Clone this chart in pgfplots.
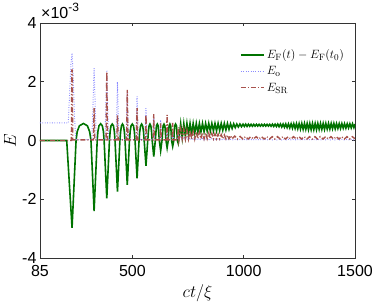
\documentclass[border=0pt]{standalone}
\usepackage{fontspec}
\newfontfamily\hv{Liberation Sans}
\usepackage{pgfplots}
\pgfplotsset{compat=1.18}
\definecolor{cg}{rgb}{0,0.45,0}
\definecolor{cb}{rgb}{0.55,0.55,1}
\definecolor{cr}{rgb}{0.66,0.32,0.30}
\begin{document}
\begin{tikzpicture}
\begin{axis}[name=ax, scale only axis, width=315pt, height=235pt,
 xmin=85, xmax=1500, ymin=-4, ymax=4,
 xtick={85,500,1000,1500}, xticklabels={85,500,1000,1500},
 ytick={-4,-2,0,2,4}, yticklabels={-4,-2,0,2,4},
 tick align=inside, tick pos=both, major tick length=3.5pt,
 every tick/.style={color=black!80, line width=0.5pt},
 axis line style={color=black!80, line width=0.6pt},
 tick label style={font=\fontsize{16}{16}\selectfont\hv},
 xticklabel style={yshift=-4pt},
 xlabel={$ct/\xi$}, ylabel={$E$},
 label style={font=\fontsize{18}{18}\selectfont},
 xlabel style={at={(axis description cs:0.5,-0.149)}, anchor=center},
 ylabel style={at={(axis description cs:-0.095,0.5)}, anchor=center},
 legend style={draw=none, fill=none, at={(axis description cs:0.975,0.90)}, anchor=north east, font=\fontsize{13}{15}\selectfont, row sep=2.5pt, inner sep=1pt},
 legend cell align=left,
 legend image code/.code={\draw[#1] (0pt,0pt) -- (23pt,0pt);},
]
\addplot[color=cg, line width=1.6pt] coordinates {
(85,0) (205,0) (229,-2.97) (247,0) (252,0.3) (262,0.5) (280,0.58) (298,0.5) (308,0.3) (314,0)
(328,-2.40) (342,0) (345,0.3) (350,0.5) (357.5,0.57) (365,0.5) (370,0.3) (373,0)
(385,-1.97) (397,0) (400,0.3) (404,0.5) (409.5,0.56) (415,0.5) (419,0.3) (422,0)
(433,-1.74) (444,0) (447,0.3) (451,0.5) (455.5,0.56) (460,0.5) (464,0.3) (467,0)
(477,-1.51) (487,0) (490,0.3) (494,0.5) (499.5,0.56) (505,0.5) (509,0.3) (512,0)
(521,-1.29) (530,0) (533,0.3) (537,0.5) (541.5,0.56) (546,0.5) (550,0.3) (553,0)
(561,-0.86) (569,0) (572,0.3) (575,0.5) (579,0.56) (583,0.5) (586,0.3) (589,0)
(596,-0.55) (603,0) (606,0.3) (608,0.5) (612,0.56) (616,0.5) (618,0.3) (621,0)
(627,-0.35) (633,0) (636,0.3) (638,0.5) (642,0.56) (646,0.5) (648,0.3) (651,0)
(656,-0.25) (661,0) (663,0.3) (665,0.5) (668.5,0.56) (672,0.5) (674,0.3) (676,0)
(681,-0.20) (686,0) (688,0.3) (690,0.5) (694,0.56) (698,0.5) (700,0.3) (702,0)
(706,-0.10) (710,0.1)
(717,0.57) (724,0.10) (731,0.57) (738,0.15) (745,0.58) (752,0.20) (759,0.58) (766,0.22)
(773,0.58) (780,0.25) (787,0.58) (794,0.27) (801,0.58) (808,0.30) (815,0.58) (822,0.30)
(829,0.58) (836,0.32) (843,0.58) (850,0.32) (857,0.58) (864,0.33) (871,0.58) (878,0.33)
(885,0.58) (892,0.34) (899,0.58) (906,0.35) (913,0.58) (920,0.36) (927,0.58) (934,0.38)
(941,0.57) (948,0.41) (955,0.57) (962,0.44) (969,0.56) (976,0.46) (983,0.56) (990,0.47)
(997,0.555) (1003,0.48) (1009,0.555) (1015,0.48) (1021,0.555) (1027,0.485) (1033,0.55) (1039,0.485)
(1045,0.55) (1051,0.49) (1057,0.55) (1063,0.49) (1069,0.55) (1075,0.49) (1081,0.55) (1087,0.49)
(1093,0.55) (1099,0.49) (1105,0.55) (1111,0.49) (1117,0.55) (1123,0.485) (1129,0.555) (1135,0.48)
(1141,0.555) (1147,0.475) (1153,0.56) (1159,0.47) (1165,0.56) (1171,0.46) (1177,0.56) (1183,0.45)
(1189,0.565) (1195,0.44) (1201,0.565) (1207,0.43) (1213,0.57) (1219,0.42) (1225,0.57) (1231,0.41)
(1237,0.575) (1243,0.40) (1249,0.575) (1255,0.39) (1261,0.58) (1267,0.38) (1273,0.58) (1279,0.38)
(1285,0.58) (1291,0.37) (1297,0.58) (1303,0.37) (1309,0.58) (1315,0.37) (1321,0.58) (1327,0.37)
(1333,0.58) (1339,0.38) (1345,0.58) (1351,0.38) (1357,0.58) (1363,0.38) (1369,0.58) (1375,0.39)
(1381,0.58) (1387,0.39) (1393,0.58) (1399,0.40) (1405,0.58) (1411,0.40) (1417,0.575) (1423,0.41)
(1429,0.575) (1435,0.41) (1441,0.575) (1447,0.42) (1453,0.57) (1459,0.42) (1465,0.57) (1471,0.43)
(1477,0.57) (1483,0.43) (1489,0.57) (1495,0.44) (1500,0.56)
};
\addlegendentry{$E_{\mathrm{F}}(t)-E_{\mathrm{F}}(t_0)$}
\addplot[color=cb, line width=1pt, dash pattern=on 0.8pt off 1.6pt] coordinates {
(85,0.6) (212,0.6) (218,1.6) (224,2.6) (229,2.97) (234,2.2) (240,0.8) (246,0.03)
(318,0.03) (323,1.2) (328,2.46) (333,1.2) (338,0.03)
(377,0.03) (381,1.2) (385,2.4) (389,1.2) (393,0.03)
(426,0.03) (430,1.0) (433,2.0) (436,1.0) (440,0.03)
(471,0.03) (474,0.8) (477,1.6) (480,0.8) (483,0.03)
(515,0.03) (518,0.75) (521,1.5) (524,0.75) (527,0.03)
(556,0.03) (561,1.1) (566,0.03)
(592,0.03) (596,0.76) (600,0.03)
(623,0.03) (627,0.7) (631,0.03)
(652,0.03) (656,0.47) (660,0.03)
(677,0.03) (681,0.3) (685,0.03)
(703,0.03) (706,0.2) (709,0.03)
(717,0.12) (724,0.02) (731,0.11) (738,0.02) (745,0.10) (752,0.02) (759,0.09) (766,0.02)
(773,0.08) (780,0.02) (787,0.08) (794,0.02) (801,0.07) (808,0.02) (815,0.07) (822,0.02)
(829,0.06) (836,0.02) (843,0.06) (850,0.02) (857,0.06) (864,0.02) (871,0.05) (878,0.02)
(885,0.05) (892,0.02) (899,0.05) (906,0.02) (913,0.05) (920,0.02) (927,0.05) (934,0.02)
(941,0.04) (948,0.02) (960,0.04) (970,0.02) (980,0.04) (990,0.02) (1000,0.04) (1010,0.02)
(1020,0.04) (1030,0.02) (1040,0.04) (1050,0.02) (1060,0.04) (1070,0.02) (1080,0.04) (1090,0.02)
(1100,0.04) (1110,0.02) (1120,0.04) (1130,0.02) (1140,0.04) (1150,0.02) (1160,0.04) (1170,0.02)
(1180,0.04) (1190,0.02) (1200,0.04) (1210,0.02) (1220,0.04) (1230,0.02) (1240,0.04) (1250,0.02)
(1260,0.04) (1270,0.02) (1280,0.04) (1290,0.02) (1300,0.04) (1310,0.02) (1320,0.04) (1330,0.02)
(1340,0.04) (1350,0.02) (1360,0.04) (1370,0.02) (1380,0.04) (1390,0.02) (1400,0.04) (1410,0.02)
(1420,0.04) (1430,0.02) (1440,0.04) (1450,0.02) (1460,0.04) (1470,0.02) (1480,0.04) (1490,0.02) (1500,0.03)
};
\addlegendentry{$E_{\mathrm{o}}$}
\addplot[color=cr, line width=1.4pt, dash pattern=on 5pt off 2pt on 1pt off 2pt] coordinates {
(85,0) (226,0) (228,2.4) (230,2.4) (232,0.02)
(325,0.02) (328,1.1) (331,0.02)
(382,0.02) (385,2.34) (388,0.02)
(430,0.02) (433,0.87) (436,0.02)
(474,0.02) (477,1.72) (480,0.02)
(518,0.02) (521,1.1) (524,0.02)
(558,0.02) (561,0.87) (564,0.02)
(593,0.02) (596,0.9) (599,0.02)
(624,0.02) (627,0.58) (630,0.02)
(653,0.02) (656,0.87) (659,0.02)
(678,0.02) (681,0.6) (684,0.02)
(703,0.02) (706,0.45) (709,0.02)
(717,0.40) (724,0.05) (731,0.38) (738,0.05) (745,0.35) (752,0.05) (759,0.33) (766,0.05)
(773,0.30) (780,0.05) (787,0.30) (794,0.06) (801,0.28) (808,0.06) (815,0.27) (822,0.06)
(829,0.26) (836,0.06) (843,0.25) (850,0.06) (857,0.24) (864,0.06) (871,0.23) (878,0.06)
(885,0.22) (892,0.06) (899,0.20) (906,0.06) (913,0.19) (920,0.06) (927,0.18) (934,0.06)
(941,0.17) (948,0.06) (960,0.15) (972,0.05) (984,0.14) (996,0.05) (1008,0.13) (1020,0.05)
(1032,0.13) (1044,0.05) (1056,0.13) (1068,0.05) (1080,0.13) (1092,0.05) (1104,0.13) (1116,0.05)
(1128,0.13) (1140,0.05) (1152,0.13) (1164,0.05) (1176,0.13) (1188,0.05) (1200,0.13) (1212,0.05)
(1224,0.13) (1236,0.05) (1248,0.13) (1260,0.05) (1272,0.13) (1284,0.05) (1296,0.13) (1308,0.05)
(1320,0.13) (1332,0.05) (1344,0.13) (1356,0.05) (1368,0.13) (1380,0.05) (1392,0.13) (1404,0.05)
(1416,0.13) (1428,0.05) (1440,0.13) (1452,0.05) (1464,0.13) (1476,0.05) (1488,0.13) (1500,0.06)
};
\addlegendentry{$E_{\mathrm{SR}}$}
\end{axis}
\node[anchor=base west, font=\fontsize{16}{16}\selectfont\hv, inner sep=0pt] at ([shift={(1pt,4pt)}]ax.north west) {×10\raisebox{0.45em}{\fontsize{12}{12}\selectfont -3}};
\pgfresetboundingbox
\path ([shift={(-40pt,-44pt)}]ax.south west) rectangle ([shift={(19pt,23pt)}]ax.north east);
\end{tikzpicture}
\end{document}
